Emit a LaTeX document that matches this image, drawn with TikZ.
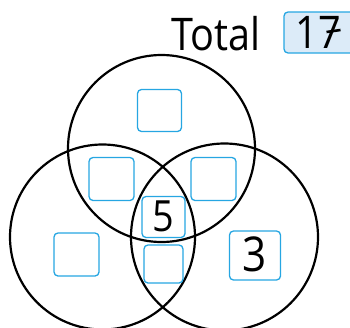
\documentclass[tikz,border=0pt]{standalone}
\usepackage{fontspec}
\setmainfont{Open Sans}[FakeStretch=0.88]
\definecolor{boxblue}{RGB}{38,166,226}
\definecolor{boxfill}{RGB}{220,235,248}
\tikzset{
  venn/.style={draw=black, line width=2.2pt},
  ansbox/.style={draw=boxblue, line width=1.3pt, rounded corners=4pt, inner sep=0pt, fill=white},
  bigtext/.style={inner sep=0pt, anchor=base, font=\fontsize{45}{45}\selectfont},
}
\begin{document}
\begin{tikzpicture}[x=1pt,y=-1pt]
\useasboundingbox (0,0) rectangle (350,327);
\clip (0,0) rectangle (350,327);
\node[bigtext] (total) at (216,50) {Total};
\node[ansbox, fill=boxfill, minimum width=80pt, minimum height=41pt] (totbox) at (324,32.5) {};
\node[bigtext] (seventeen) at (318.5,48) {17};
\draw[line width=2.6pt] ([xshift=8pt,yshift=16pt]seventeen.base) -- ([xshift=22pt,yshift=18pt]seventeen.base);
\draw[venn] (161.5,148.5) circle (93.5);
\draw[venn] (102.5,237) circle (92.5);
\draw[venn] (224.5,237) circle (93.5);
\node[ansbox, minimum width=44pt, minimum height=42pt] (btop) at (159.5,110.5) {};
\node[ansbox, minimum width=45pt, minimum height=43pt] (bab) at (111.5,179) {};
\node[ansbox, minimum width=45pt, minimum height=43pt] (bac) at (213.5,179) {};
\node[ansbox, minimum width=43pt, minimum height=41pt] (babc) at (163.5,217) {};
\node[ansbox, minimum width=45pt, minimum height=43pt] (bb) at (76.5,254.5) {};
\node[ansbox, minimum width=39pt, minimum height=38pt] (bbc) at (163.5,264) {};
\node[ansbox, minimum width=51pt, minimum height=49pt] (bc) at (255,255.5) {};
\node[bigtext, font=\fontsize{43}{43}\selectfont] (five) at (163.5,231.5) {5};
\node[bigtext, font=\fontsize{48}{48}\selectfont] (three) at (255,271) {3};
\end{tikzpicture}
\end{document}
